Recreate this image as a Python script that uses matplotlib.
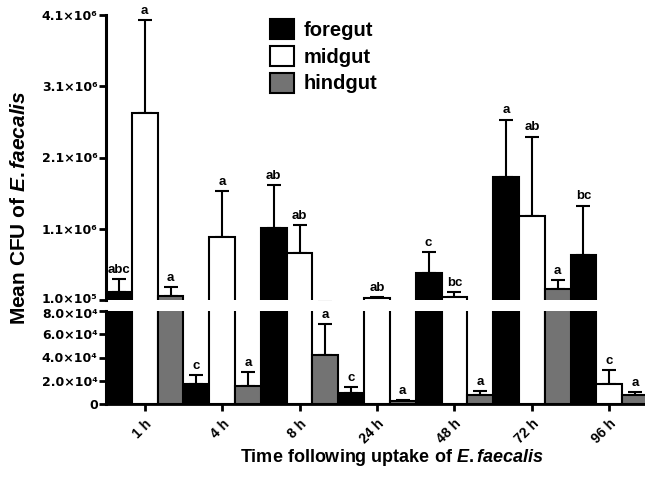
import numpy as np
import matplotlib
matplotlib.use("Agg")
import matplotlib.pyplot as plt
import matplotlib.transforms as mtransforms
from matplotlib.patches import Patch

plt.rcParams['font.family'] = ['Liberation Sans', 'DejaVu Sans']
plt.rcParams['mathtext.fontset'] = 'custom'
plt.rcParams['mathtext.rm'] = 'Liberation Sans:bold'
plt.rcParams['mathtext.bf'] = 'Liberation Sans:bold'
plt.rcParams['mathtext.it'] = 'Liberation Sans:bold:italic'

times = ['1 h', '4 h', '8 h', '24 h', '48 h', '72 h', '96 h']

foregut = [2.1e5, 1.72e4, 1.11e6, 9.5e3, 4.8e5, 1.83e6, 7.3e5]
foregut_err = [1.85e5, 7.7e3, 6.0e5, 5.1e3, 2.9e5, 8.0e5, 6.9e5]
foregut_lbl = ['abc', 'c', 'ab', 'c', 'c', 'a', 'bc']

midgut = [2.72e6, 9.84e5, 7.6e5, 1.28e5, 1.4e5, 1.28e6, 1.72e4]
midgut_err = [1.31e6, 6.46e5, 3.9e5, 1.2e4, 7.0e4, 1.11e6, 1.2e4]
midgut_lbl = ['a', 'a', 'ab', 'ab', 'bc', 'ab', 'c']

hindgut = [1.56e5, 1.55e4, 4.22e4, 2.6e3, 7.7e3, 2.54e5, 7.7e3]
hindgut_err = [1.24e5, 1.2e4, 2.66e4, 8.0e2, 3.5e3, 1.26e5, 2.6e3]
hindgut_lbl = ['a', 'a', 'a', 'a', 'a', 'a', 'a']

upper_ticks = [1.0e5, 1.1e6, 2.1e6, 3.1e6, 4.1e6]
upper_tick_lbl = ['1.0×10⁵', '1.1×10⁶', '2.1×10⁶', '3.1×10⁶', '4.1×10⁶']
lower_ticks = [0, 2.0e4, 4.0e4, 6.0e4, 8.0e4]
lower_tick_lbl = ['0', '2.0×10⁴', '4.0×10⁴', '6.0×10⁴', '8.0×10⁴']

series = [
    ('foregut', foregut, foregut_err, foregut_lbl, 'black'),
    ('midgut', midgut, midgut_err, midgut_lbl, 'white'),
    ('hindgut', hindgut, hindgut_err, hindgut_lbl, '#737373'),
]

fig = plt.figure(figsize=(6.45, 4.8), dpi=100)
ax_top = fig.add_axes([106 / 645, 1 - 300 / 480, 542 / 645, 285 / 480])
ax_bot = fig.add_axes([106 / 645, 1 - 404 / 480, 542 / 645, 93 / 480])

x = np.arange(len(times))
w = 1 / 3
for i, (name, vals, errs, lbls, col) in enumerate(series):
    pos = x + (i - 1) * w
    for ax in (ax_top, ax_bot):
        ax.bar(pos, vals, width=w, color=col, edgecolor='black', linewidth=1.5, zorder=3)
        ax.errorbar(pos, vals, yerr=[np.zeros(len(vals)), errs], fmt='none',
                    ecolor='black', elinewidth=1.5, capsize=5, capthick=1.5, zorder=2)
    for p, v, e, t in zip(pos, vals, errs, lbls):
        top = v + e
        ax = ax_top if top > 1.0e5 else ax_bot
        ax.annotate(t, (p, top), xytext=(0, 2.5), textcoords='offset points',
                    ha='center', va='bottom', fontsize=9.5, fontweight='bold',
                    annotation_clip=False)

ax_top.set_xlim(-0.5, 6.5)
ax_bot.set_xlim(-0.5, 6.5)
ax_top.set_ylim(1.0e5, 4.1e6)
ax_bot.set_ylim(0, 8.0e4)

for ax in (ax_top, ax_bot):
    ax.spines['top'].set_visible(False)
    ax.spines['right'].set_visible(False)
    ax.spines['left'].set_linewidth(2.2)
    ax.tick_params(axis='y', width=2, length=5, pad=1)
ax_top.spines['bottom'].set_visible(False)
ax_top.set_xticks([])
ax_bot.spines['bottom'].set_linewidth(2)

ax_top.set_yticks(upper_ticks)
ax_top.set_yticklabels(upper_tick_lbl, family='DejaVu Sans', fontweight='bold', fontsize=9)
ax_bot.set_yticks(lower_ticks)
ax_bot.set_yticklabels(lower_tick_lbl, family='DejaVu Sans', fontweight='bold', fontsize=9)

# the two labels next to the break are pushed apart by a couple of pixels
lab = ax_top.yaxis.get_major_ticks()[0].label1
lab.set_transform(lab.get_transform() + mtransforms.ScaledTranslation(0, 1.5 / 72, fig.dpi_scale_trans))
lab = ax_bot.yaxis.get_major_ticks()[-1].label1
lab.set_transform(lab.get_transform() + mtransforms.ScaledTranslation(0, -1.5 / 72, fig.dpi_scale_trans))

ax_bot.set_xticks(x)
ax_bot.set_xticklabels(times, rotation=45, ha='right', va='top',
                       rotation_mode='anchor', fontsize=10, fontweight='bold')
ax_bot.tick_params(axis='x', width=2, length=5, pad=4)

fig.text(392 / 645, 1 - 458 / 480, r'Time following uptake of $\it{E. faecalis}$',
         ha='center', va='center', fontsize=13, fontweight='bold')
fig.text(20 / 645, 1 - 208 / 480, r'Mean CFU of $\it{E. faecalis}$', rotation=90,
         ha='center', va='center', fontsize=15, fontweight='bold')

handles = [Patch(facecolor=c, edgecolor='black', linewidth=1.5, label=n)
           for n, _, _, _, c in series]
ax_top.legend(handles=handles, loc='upper left', bbox_to_anchor=(0.27, 1.05),
              frameon=False, prop={'weight': 'bold', 'size': 14.5},
              handlelength=1.15, handleheight=1.15, handletextpad=0.5, labelspacing=0.3)

fig.savefig('out.png', dpi=100)
